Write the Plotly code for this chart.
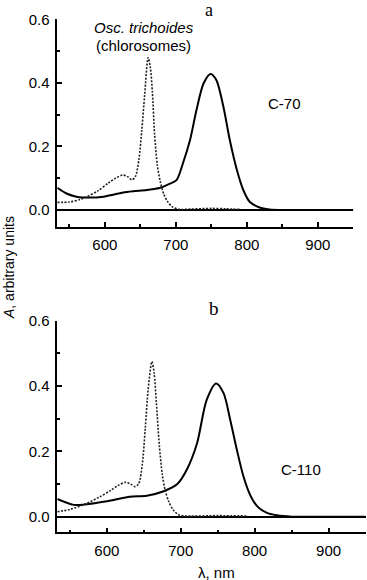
import plotly.graph_objects as go

# ---------------- data ----------------
# Panel a: C-70 (solid) and Osc. trichoides chlorosomes (dotted)
a_c70_nm = [533, 546, 560, 579, 598, 612, 626, 640, 659, 677, 691, 701, 710, 720, 729,
            739, 749, 757, 767, 776, 786, 795, 804, 818, 832, 850, 880, 950]
a_c70_A = [0.070, 0.052, 0.042, 0.039, 0.042, 0.048, 0.055, 0.059, 0.063, 0.069, 0.082,
           0.094, 0.147, 0.220, 0.314, 0.398, 0.428, 0.409, 0.325, 0.220, 0.126, 0.063,
           0.026, 0.008, 0.002, 0.0, 0.0, 0.0]

a_chl_nm = [533, 550, 565, 575, 590, 605, 615, 625, 632, 638, 643, 648, 652, 656, 661,
            664, 667, 670, 674, 678, 683, 688, 695, 705, 720, 750, 770, 790]
a_chl_A = [0.024, 0.025, 0.033, 0.042, 0.060, 0.085, 0.100, 0.110, 0.105, 0.095, 0.105,
           0.160, 0.250, 0.360, 0.480, 0.450, 0.370, 0.240, 0.140, 0.090, 0.050, 0.028,
           0.010, 0.002, 0.003, 0.005, 0.004, 0.002]

# Panel b: C-110 (solid) and chlorosomes (dotted)
b_c110_nm = [533, 555, 573, 591, 609, 631, 654, 676, 695, 708, 722, 735, 748, 758, 767,
             776, 785, 794, 803, 816, 830, 850, 880, 950]
b_c110_A = [0.054, 0.036, 0.038, 0.044, 0.051, 0.061, 0.064, 0.077, 0.099, 0.143, 0.224,
            0.357, 0.408, 0.378, 0.296, 0.204, 0.122, 0.066, 0.033, 0.012, 0.004, 0.0,
            0.0, 0.0]

b_chl_nm = [533, 550, 570, 590, 605, 615, 625, 632, 638, 643, 648, 652, 656, 661, 664,
            667, 671, 675, 679, 684, 690, 697, 705, 750, 790]
b_chl_A = [0.015, 0.022, 0.038, 0.060, 0.080, 0.095, 0.105, 0.100, 0.092, 0.100, 0.160,
           0.270, 0.390, 0.475, 0.440, 0.350, 0.220, 0.130, 0.080, 0.045, 0.020, 0.006,
           0.002, 0.003, 0.002]

x_ticks = [600, 700, 800, 900]
y_ticks = [0.0, 0.2, 0.4, 0.6]

# ---------------- figure ----------------
W, H = 367, 580
FONT = "Liberation Sans, Arial, Helvetica, sans-serif"
SERIF = "Liberation Serif, Times New Roman, serif"

fig = go.Figure()

solid = dict(color="black", width=2, shape="spline", smoothing=0.8)
dotted = dict(color="#222", width=1.6, dash="2px,1.5px", shape="spline", smoothing=0.8)

fig.add_trace(go.Scatter(x=a_c70_nm, y=a_c70_A, mode="lines", line=solid, xaxis="x", yaxis="y"))
fig.add_trace(go.Scatter(x=a_chl_nm, y=a_chl_A, mode="lines", line=dotted, xaxis="x", yaxis="y"))
fig.add_trace(go.Scatter(x=b_c110_nm, y=b_c110_A, mode="lines", line=solid, xaxis="x2", yaxis="y2"))
fig.add_trace(go.Scatter(x=b_chl_nm, y=b_chl_A, mode="lines", line=dotted, xaxis="x2", yaxis="y2"))


def xax(domain, anchor):
    return dict(domain=domain, anchor=anchor, range=[533, 950], tickvals=x_ticks,
                ticks="inside", ticklen=5, tickwidth=1.5, tickcolor="black",
                minor=dict(dtick=50, tick0=0, ticks="inside", ticklen=3, tickwidth=1.5,
                           tickcolor="black", showgrid=False),
                showline=True, linewidth=1.5, linecolor="black", showgrid=False,
                zeroline=False, tickfont=dict(family=FONT, size=15, color="black"),
                ticklabelstandoff=4)


def yax(domain, anchor, lo):
    return dict(domain=domain, anchor=anchor, range=[lo, 0.6], tickvals=y_ticks,
                ticktext=["0.0", "0.2", "0.4", "0.6"],
                ticks="inside", ticklen=5, tickwidth=1.5, tickcolor="black",
                minor=dict(dtick=0.1, tick0=0, ticks="inside", ticklen=3, tickwidth=1.5,
                           tickcolor="black", showgrid=False),
                showline=True, linewidth=1.5, linecolor="black", showgrid=False,
                zeroline=True, zerolinewidth=2, zerolinecolor="black",
                tickfont=dict(family=FONT, size=15, color="black"),
                ticklabelstandoff=3)


fig.update_layout(
    width=W, height=H, margin=dict(l=0, r=0, t=0, b=0, autoexpand=False),
    paper_bgcolor="white", plot_bgcolor="rgba(0,0,0,0)", showlegend=False,
    xaxis=xax([57.3 / W, 353.3 / W], "y"),
    yaxis=yax([1 - 226.7 / H, 1 - 19.3 / H], "x", -0.0525),
    xaxis2=xax([57.3 / W, 365.5 / W], "y2"),
    yaxis2=yax([1 - 532.3 / H, 1 - 320.7 / H], "x2", -0.048),
)

ann = []
txt = dict(family=FONT, size=15, color="black")
c = dict(showarrow=False, xanchor="center", yanchor="middle")
ann.append(dict(x=655, y=0.575, xref="x", yref="y", text="<i>Osc. trichoides</i>", font=txt, **c))
ann.append(dict(x=654, y=0.517, xref="x", yref="y", text="(chlorosomes)", font=txt, **c))
ann.append(dict(x=853, y=0.335, xref="x", yref="y", text="C-70", font=txt, **c))
ann.append(dict(x=863, y=0.143, xref="x2", yref="y2", text="C-110", font=txt, **c))
ann.append(dict(x=209 / W, y=1 - 10 / H, xref="paper", yref="paper", text="a",
                font=dict(family=SERIF, size=18, color="black"), **c))
ann.append(dict(x=214 / W, y=1 - 308 / H, xref="paper", yref="paper", text="b",
                font=dict(family=SERIF, size=19, color="black"), **c))
ann.append(dict(x=9 / W, y=1 - 268 / H, xref="paper", yref="paper",
                text="<i>A</i>, arbitrary units", textangle=-90,
                font=dict(family=FONT, size=14, color="black"), **c))
ann.append(dict(x=217 / W, y=1 - 572 / H, xref="paper", yref="paper",
                text="λ, nm", font=dict(family=FONT, size=15, color="black"), **c))
fig.update_layout(annotations=ann)

fig.write_html("out.html", config={"displayModeBar": False},
               post_script="document.body.style.margin='0';document.body.style.overflow='hidden';")
